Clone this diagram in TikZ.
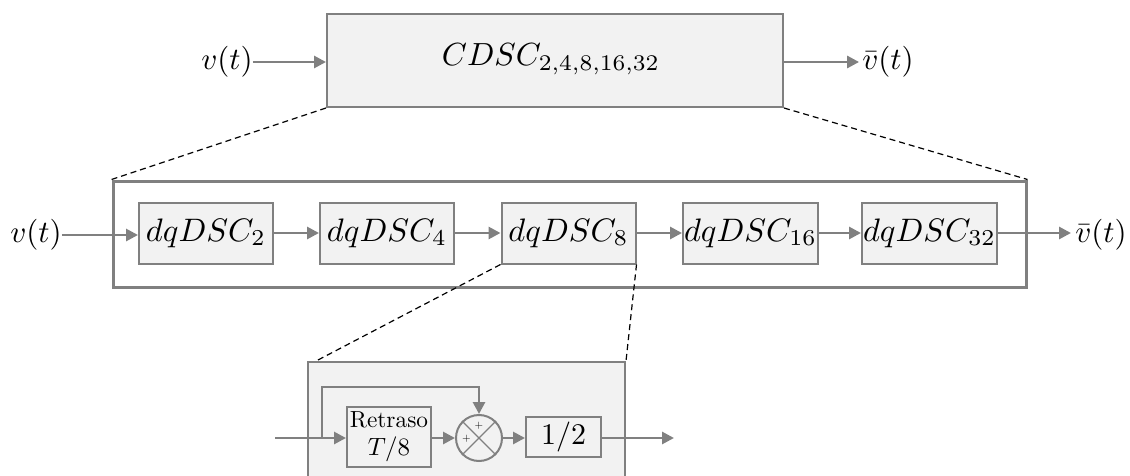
\documentclass[tikz,border=0pt]{standalone}
\usetikzlibrary{arrows.meta,calc}
\definecolor{ln}{RGB}{128,128,128}
\definecolor{bg}{RGB}{242,242,242}
% text is set at 10pt and enlarged to the size of the drawing
\newcommand\enl[2]{\scalebox{#1}{#2}}
\tikzset{
  txt/.style={inner sep=0pt},
  blk/.style={draw=ln, line width=2pt, fill=bg, inner sep=0pt},
  arr/.style={draw=ln, line width=2.8pt, -{Triangle[length=12pt,width=12pt]}},
  zoomline/.style={draw=black, line width=1.2pt, dash pattern=on 6pt off 4pt},
}
\begin{document}
\begin{tikzpicture}[x=1pt,y=-1pt]
\path[use as bounding box] (0,0) rectangle (1130,476);
\clip (0,0) rectangle (1130,476);

% ---- overall block ----
\node[blk, minimum width=456pt, minimum height=93pt] (cdsc) at (555,60.5) {};
\node[txt, anchor=base] (cdsct) at (551,66) {\enl{3.2}{$CDSC_{2,4,8,16,32}$}};
\node[txt] (vin) at (227,62) {\enl{3.1}{$v(t)$}};
\node[txt] (vout) at (888,62) {\enl{3.1}{$\bar{v}(t)$}};
\draw[arr] (vin.east) -- (vin.east -| cdsc.west);
\draw[arr] (vin.east -| cdsc.east) -- ($(vout.west)+(-3,0)$);

% ---- cascade of stages ----
\node[draw=ln, line width=3pt, minimum width=913pt, minimum height=106pt, inner sep=0pt] (casc) at (569.5,234) {};
\node[blk, minimum width=134pt, minimum height=61pt] (s2)  at (206,233)   {\enl{3.25}{$dqDSC_2$}};
\node[blk, minimum width=134pt, minimum height=61pt] (s4)  at (387,233)   {\enl{3.25}{$dqDSC_4$}};
\node[blk, minimum width=134pt, minimum height=61pt] (s8)  at (568.5,233) {\enl{3.25}{$dqDSC_8$}};
\node[blk, minimum width=135pt, minimum height=61pt] (s16) at (750.5,233) {\enl{3.25}{$dqDSC_{16}$}};
\node[blk, minimum width=135pt, minimum height=61pt] (s32) at (929.5,233) {\enl{3.25}{$dqDSC_{32}$}};
\node[txt] (vin2) at (36,235) {\enl{3.1}{$v(t)$}};
\node[txt] (vout2) at (1101,235) {\enl{3.1}{$\bar{v}(t)$}};
\draw[arr] (vin2.east) -- (vin2.east -| s2.west);
\draw[arr] (s2) -- (s4);
\draw[arr] (s4) -- (s8);
\draw[arr] (s8) -- (s16);
\draw[arr] (s16) -- (s32);
\coordinate (oend) at (1071,233);
\draw[arr] (s32.east) -- (oend);

% zoom guides
\draw[zoomline] (cdsc.south west) -- (casc.north west);
\draw[zoomline] (cdsc.south east) -- (casc.north east);

% ---- internal structure of one stage ----
\node[blk, minimum width=317pt, minimum height=150pt] (inner) at (466.5,437) {};
\coordinate (zl) at (318,360);
\draw[zoomline] (s8.south west) -- (zl);
\draw[zoomline] (s8.south east) -- (inner.north east);

\node[blk, minimum width=84pt, minimum height=60pt] (ret) at (389,437) {};
\node[inner sep=0pt, anchor=base] (rett) at (389,427) {\enl{2.33}{Retraso}};
\node[inner sep=0pt, anchor=base] (retT) at (389,455) {\enl{2.5}{$T/8$}};

\node[blk, circle, minimum size=46pt] (sum) at (479,438) {};
\draw[draw=ln, line width=1.3pt] (sum.north west) -- (sum.south east);
\draw[draw=ln, line width=1.3pt] (sum.north east) -- (sum.south west);
\node[inner sep=0pt] (pt) at (479,425.5) {\enl{1.1}{$+$}};
\node[inner sep=0pt] (pl) at (466.5,438.5) {\enl{1.1}{$+$}};

\node[blk, minimum width=75pt, minimum height=40pt] (half) at (563.5,437) {\enl{3.0}{$1/2$}};

\coordinate (bin) at (275,438);
\coordinate (br) at (322,438);
\coordinate (bout) at (674,438);
\draw[arr] (bin) -- (bin -| ret.west);
\draw[arr] (br) -- ++(0,-51) -| (sum.north);
\draw[arr] (ret.east |- sum) -- (sum.west);
\draw[arr] (sum.east) -- (sum -| half.west);
\draw[arr] (sum -| half.east) -- (bout);
\end{tikzpicture}
\end{document}
